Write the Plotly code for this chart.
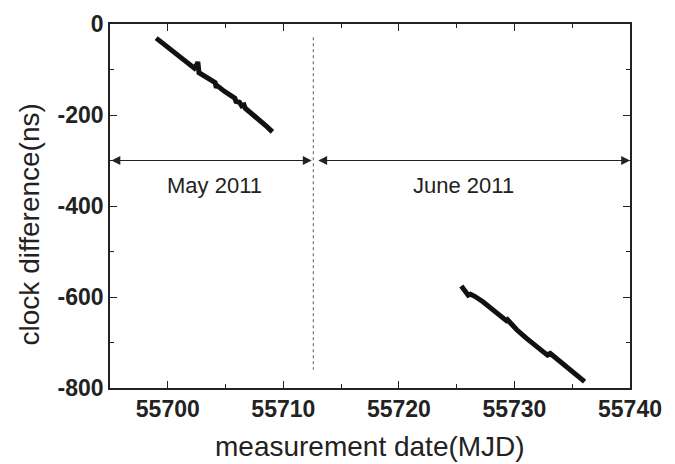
import plotly.graph_objects as go

# May 2011 segment (MJD, ns)
may_x = [55699.0, 55699.8, 55700.6, 55701.4, 55702.0, 55702.3, 55702.55, 55702.6,
         55702.7, 55703.2, 55703.7, 55704.1, 55704.2, 55704.3, 55704.9, 55705.5,
         55705.8, 55705.9, 55706.2, 55706.4, 55706.6, 55706.7, 55707.3, 55708.0,
         55708.6, 55709.05]
may_y = [-31, -47, -64, -80, -90, -97, -88, -83,
         -107, -115, -124, -129, -140, -136, -148, -159,
         -163, -170, -172, -180, -178, -185, -197, -212,
         -226, -237]

# June 2011 segment (MJD, ns)
june_x = [55725.4, 55725.8, 55726.0, 55726.2, 55726.6, 55727.3, 55728.0, 55728.7,
          55729.3, 55729.4, 55730.2, 55731.05, 55731.7, 55732.4, 55732.96, 55733.0,
          55733.2, 55733.8, 55734.5, 55735.3, 55736.07]
june_y = [-576, -588, -596, -594, -599, -611, -625, -639,
          -652, -650, -672, -691, -704, -718, -730, -722,
          -726, -738, -752, -768, -786]

x_ticks = [55700, 55710, 55720, 55730, 55740]
y_ticks = [0, -200, -400, -600, -800]

boundary_x = 55712.6
boundary_y = [-29, -760]
arrow_y = -300
x_range = [55695, 55740]
y_range = [-800, 0]
labels = ["May 2011", "June 2011"]
label_x = [55704.0, 55725.6]
label_y = -354
x_title = "measurement date(MJD)"
y_title = "clock difference(ns)"

FONT = "Liberation Sans, Arial"
INK = "#222222"

fig = go.Figure()
line_style = dict(color="#111111", width=5)
fig.add_trace(go.Scatter(x=may_x, y=may_y, mode="lines", line=line_style, showlegend=False))
fig.add_trace(go.Scatter(x=june_x, y=june_y, mode="lines", line=line_style, showlegend=False))
fig.add_trace(go.Scatter(x=[boundary_x, boundary_x], y=boundary_y, mode="lines",
                         line=dict(color="#777777", width=1.2, dash="dot"), showlegend=False))

# double-headed arrows
for x0, x1 in [(x_range[0], boundary_x - 0.15), (boundary_x + 0.3, x_range[1])]:
    fig.add_annotation(x=x1, y=arrow_y, ax=x0, ay=arrow_y, xref="x", yref="y",
                       axref="x", ayref="y", text="", showarrow=True,
                       arrowhead=2, startarrowhead=2, arrowside="end+start",
                       arrowsize=1.6, startarrowsize=1.6, arrowwidth=1.1,
                       arrowcolor=INK, standoff=0, startstandoff=0)

for t, lx in zip(labels, label_x):
    fig.add_annotation(x=lx, y=label_y, xref="x", yref="y", text=t, showarrow=False,
                       font=dict(family=FONT, size=22, color=INK))

# axis titles
fig.add_annotation(x=0.5, y=-0.16, xref="paper", yref="paper", text=x_title,
                   showarrow=False, xanchor="center", yanchor="middle",
                   font=dict(family=FONT, size=28, color=INK))
fig.add_annotation(x=-0.155, y=0.4505, xref="paper", yref="paper", text=y_title,
                   showarrow=False, xanchor="center", yanchor="middle", textangle=-90,
                   font=dict(family=FONT, size=28, color=INK))

axis_common = dict(
    showline=True, linecolor=INK, linewidth=1.5, mirror="allticks",
    ticks="inside", ticklen=7, tickwidth=1.3, tickcolor=INK,
    showgrid=False, zeroline=False, automargin=False,
    tickfont=dict(family=FONT, size=23, color=INK, weight="bold"),
)

fig.update_xaxes(range=x_range, tickvals=x_ticks, ticktext=[str(v) for v in x_ticks],
                 minor=dict(dtick=5, tick0=55695, ticks="inside", ticklen=4, tickcolor=INK),
                 **axis_common)
fig.update_yaxes(range=y_range, tickvals=y_ticks, ticktext=[str(v) for v in y_ticks],
                 minor=dict(dtick=100, tick0=0, ticks="inside", ticklen=4, tickcolor=INK),
                 **axis_common)

# page body adds an 8px offset, margins compensate so the plot area lands where the reference has it
fig.update_layout(width=675, height=464, margin=dict(l=102, r=53, t=16, b=84),
                  plot_bgcolor="white", paper_bgcolor="white")

fig.write_html("out.html")
